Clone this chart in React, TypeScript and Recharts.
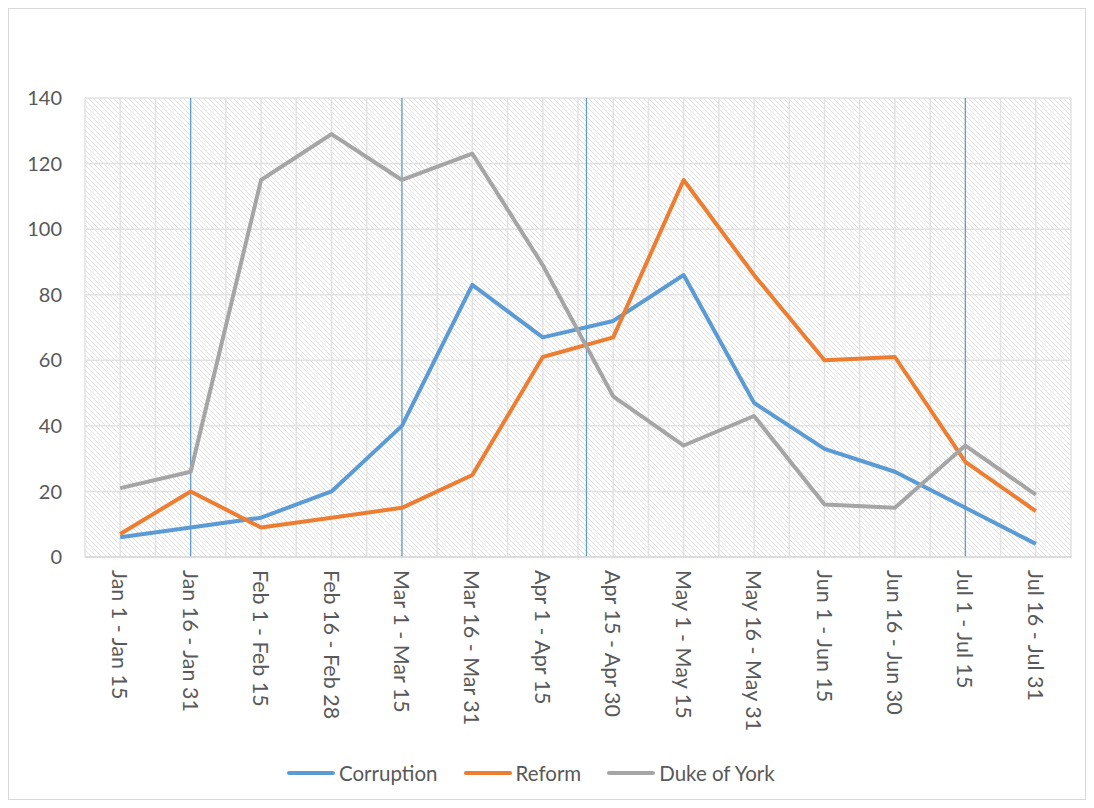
import React from 'react'
import { LineChart, Line, XAxis, YAxis, CartesianGrid, ReferenceLine } from 'recharts'

const categories = [
  'Jan 1 - Jan 15', 'Jan 16 - Jan 31', 'Feb 1 - Feb 15', 'Feb 16 - Feb 28',
  'Mar 1 - Mar 15', 'Mar 16 - Mar 31', 'Apr 1 - Apr 15', 'Apr 15 - Apr 30',
  'May 1 - May 15', 'May 16 - May 31', 'Jun 1 - Jun 15', 'Jun 16 - Jun 30',
  'Jul 1 - Jul 15', 'Jul 16 - Jul 31',
]
const corruption = [6, 9, 12, 20, 40, 83, 67, 72, 86, 47, 33, 26, 15, 4]
const reform = [7, 20, 9, 12, 15, 25, 61, 67, 115, 86, 60, 61, 29, 14]
const dukeOfYork = [21, 26, 115, 129, 115, 123, 89, 49, 34, 43, 16, 15, 34, 19]
const yTicks = [0, 20, 40, 60, 80, 100, 120, 140]
// event markers, in category positions
const markers = [1, 4, 6.62, 12]

const series = [
  { key: 'corruption', name: 'Corruption', color: '#5B9BD5' },
  { key: 'reform', name: 'Reform', color: '#ED7D31' },
  { key: 'duke', name: 'Duke of York', color: '#A5A5A5' },
]

const data = categories.map((c, i) => ({
  idx: i,
  label: c,
  corruption: corruption[i],
  reform: reform[i],
  duke: dukeOfYork[i],
}))

// ticks at centers and band edges so the grid draws both
const xTicks: number[] = []
for (let i = 0; i <= categories.length * 2; i++) xTicks.push(-0.5 + i * 0.5)

const FONT = 'Lato, "Open Sans", sans-serif'
const TEXT = '#595959'

const XTick = (props: any) => {
  const { x, y, payload } = props
  const v = payload.value
  if (!Number.isInteger(v)) return null
  return (
    <text
      x={0}
      y={0}
      transform={`translate(${x},${y + 5}) rotate(90)`}
      textAnchor="start"
      dominantBaseline="central"
      fontSize={21.5}
      fontFamily={FONT}
      fill={TEXT}
    >
      {categories[v]}
    </text>
  )
}

export default function App() {
  return (
    <div style={{ position: 'relative', width: 1076, height: 790, border: '1px solid #d9d9d9', background: '#fff' }}>
      <LineChart
        width={1076}
        height={790}
        data={data}
        margin={{ top: 89, right: 14, bottom: 42, left: 0 }}
      >
        <defs>
          <pattern id="hatch" patternUnits="userSpaceOnUse" width="5" height="5">
            <rect width="5" height="5" fill="#ffffff" />
            <path d="M-1,-1 L6,6 M-1,4 L1,6 M4,-1 L6,1" stroke="#e3e3e3" strokeWidth="1" />
          </pattern>
        </defs>
        <CartesianGrid stroke="#e2e2e2" strokeWidth={1.5} fill="url(#hatch)" fillOpacity={1} />
        <XAxis
          dataKey="idx"
          type="number"
          domain={[-0.5, 13.5]}
          ticks={xTicks}
          interval={0}
          height={200}
          tickLine={false}
          axisLine={{ stroke: '#d9d9d9', strokeWidth: 1.5 }}
          tick={<XTick />}
          allowDecimals
        />
        <YAxis
          width={76}
          domain={[0, 140]}
          ticks={yTicks}
          axisLine={false}
          tickLine={false}
          tickSize={0}
          tickMargin={23}
          tick={{ fontSize: 20, fontFamily: FONT, fill: TEXT }}
        />
        {markers.map((m) => (
          <ReferenceLine key={m} x={m} stroke="#5B9BD5" strokeWidth={1.2} />
        ))}
        {series.map((s) => (
          <Line
            key={s.key}
            dataKey={s.key}
            name={s.name}
            stroke={s.color}
            strokeWidth={4}
            dot={false}
            activeDot={false}
            isAnimationActive={false}
            strokeLinejoin="round"
          />
        ))}
      </LineChart>
      <div
        style={{
          position: 'absolute',
          top: 752,
          left: 278,
          display: 'flex',
          alignItems: 'center',
          fontFamily: FONT,
          fontSize: 20.5,
          color: TEXT,
          gap: 26,
        }}
      >
        {series.map((s) => (
          <div key={s.key} style={{ display: 'flex', alignItems: 'center' }}>
            <div style={{ width: 48, height: 4, borderRadius: 2, background: s.color, marginRight: 4 }} />
            <span>{s.name}</span>
          </div>
        ))}
      </div>
    </div>
  )
}
